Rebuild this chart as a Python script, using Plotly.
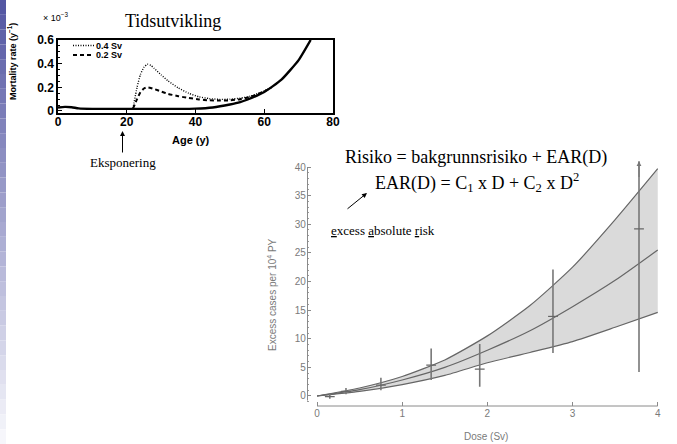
import plotly.graph_objects as go

# ---------------- data: top chart (mortality rate vs age, x 10^-3 /y) ----------------
age_base = [0, 2, 4, 6, 10, 15, 20, 25, 30, 35, 40, 45, 50, 53, 55, 60, 65, 70, 73.5]
rate_base = [0.03, 0.035, 0.032, 0.022, 0.018, 0.018, 0.018, 0.018, 0.018, 0.018,
             0.02, 0.03, 0.055, 0.075, 0.095, 0.16, 0.265, 0.43, 0.6]

age_exp = [21.8, 23, 24, 25, 26, 27, 28, 30, 32, 35, 38, 41, 44, 47, 50, 53, 56, 60, 62]
rate_04 = [0.02, 0.2, 0.31, 0.37, 0.395, 0.385, 0.36, 0.305, 0.255, 0.195, 0.15,
           0.12, 0.105, 0.098, 0.1, 0.108, 0.125, 0.17, 0.2]
rate_02 = [0.02, 0.1, 0.16, 0.19, 0.2, 0.195, 0.185, 0.165, 0.145, 0.125, 0.11,
           0.098, 0.09, 0.088, 0.09, 0.1, 0.12, 0.165, 0.195]

top_xticks = [0, 20, 40, 60, 80]
top_yticks = [0, 0.2, 0.4, 0.6]

# ---------------- data: bottom-right chart (excess cases per 10^4 PY vs dose) ----------------
dose_grid = [0, 0.5, 1, 1.5, 2, 2.5, 3, 3.5, 4]
fit_central = [0, 1.1, 2.8, 5.0, 8.0, 11.4, 15.6, 20.2, 25.5]
fit_upper = [0, 1.4, 3.4, 6.3, 10.5, 15.8, 22.5, 30.8, 39.7]
fit_lower = [0, 0.8, 2.0, 3.6, 5.8, 7.6, 9.5, 12.0, 14.6]

pt_dose = [0.15, 0.34, 0.75, 1.34, 1.91, 2.77, 3.78]
pt_val = [-0.1, 0.8, 1.9, 5.4, 4.7, 13.9, 29.2]
pt_lo = [-0.5, 0.3, 1.0, 2.8, 1.6, 7.5, 4.2]
pt_hi = [0.4, 1.4, 3.2, 8.3, 9.1, 22.1, 92]

dose_ticks = [0, 1, 2, 3, 4]
excess_ticks = [0, 5, 10, 15, 20, 25, 30, 35, 40]

# ---------------- helpers ----------------
W, H = 677, 444
def PX(px):
    return px / W
def PY(py):
    return 1 - py / H

SANS = "Liberation Sans, Arial, sans-serif"
SERIF = "Liberation Serif, Times New Roman, serif"
GRAY = "#7a7a7a"
LINEGRAY = "#666666"

fig = go.Figure()

# top chart traces
fig.add_trace(go.Scatter(x=age_base, y=rate_base, mode="lines", xaxis="x", yaxis="y",
                         line=dict(color="black", width=2.4, shape="spline", smoothing=0.5),
                         showlegend=False))
fig.add_trace(go.Scatter(x=age_exp, y=rate_04, mode="lines", xaxis="x", yaxis="y",
                         line=dict(color="black", width=1.4, dash="1px,1.5px", shape="spline", smoothing=0.5),
                         showlegend=False))
fig.add_trace(go.Scatter(x=age_exp, y=rate_02, mode="lines", xaxis="x", yaxis="y",
                         line=dict(color="black", width=2, dash="4px,3px", shape="spline", smoothing=0.5),
                         showlegend=False))

# bottom-right chart: band + central fit
fig.add_trace(go.Scatter(x=dose_grid, y=fit_lower, mode="lines", xaxis="x2", yaxis="y2",
                         line=dict(color=LINEGRAY, width=1.2, shape="spline", smoothing=0.6),
                         showlegend=False))
fig.add_trace(go.Scatter(x=dose_grid, y=fit_upper, mode="lines", xaxis="x2", yaxis="y2",
                         fill="tonexty", fillcolor="#dadada",
                         line=dict(color=LINEGRAY, width=1.2, shape="spline", smoothing=0.6),
                         showlegend=False))
fig.add_trace(go.Scatter(x=dose_grid, y=fit_central, mode="lines", xaxis="x2", yaxis="y2",
                         line=dict(color=LINEGRAY, width=1.2, shape="spline", smoothing=0.6),
                         showlegend=False))
fig.add_trace(go.Scatter(
    x=pt_dose, y=pt_val, mode="markers", xaxis="x2", yaxis="y2",
    marker=dict(symbol="line-ew", size=7, color=LINEGRAY, line=dict(color=LINEGRAY, width=1.2)),
    error_y=dict(type="data", symmetric=False,
                 array=[h - v for h, v in zip(pt_hi, pt_val)],
                 arrayminus=[v - l for v, l in zip(pt_val, pt_lo)],
                 color="#777777", thickness=1.6, width=0),
    showlegend=False))

shapes = []
# purple gradient strip on the left
N = 30
c0 = (84, 87, 163)
c1 = (246, 246, 251)
for i in range(N):
    t = i / (N - 1)
    col = tuple(int(round(a + (b - a) * t)) for a, b in zip(c0, c1))
    shapes.append(dict(type="rect", xref="paper", yref="paper",
                       x0=0, x1=PX(6), y0=PY(H * (i + 1) / N), y1=PY(H * i / N),
                       line=dict(width=0), fillcolor="rgb(%d,%d,%d)" % col, layer="below"))
# legend samples of the top chart
shapes.append(dict(type="line", xref="paper", yref="paper", x0=PX(73), x1=PX(94),
                   y0=PY(45.5), y1=PY(45.5), line=dict(color="black", width=1.4, dash="1px,1.5px")))
shapes.append(dict(type="line", xref="paper", yref="paper", x0=PX(73), x1=PX(94),
                   y0=PY(55), y1=PY(55), line=dict(color="black", width=2, dash="4px,3px")))
# detached axis lines of the right chart
shapes.append(dict(type="line", xref="x2", yref="paper", x0=0, x1=4,
                   y0=PY(406), y1=PY(406), line=dict(color="#8a8a8a", width=1)))
shapes.append(dict(type="line", xref="paper", yref="y2", x0=PX(307.5), x1=PX(307.5),
                   y0=-0.8, y1=40, line=dict(color="#8a8a8a", width=1)))


def txt(text, px, py, size, family=SANS, color="black", xanchor="center", angle=0):
    return dict(text=text, x=PX(px), y=PY(py), xref="paper", yref="paper",
                xanchor=xanchor, yanchor="middle", textangle=angle, showarrow=False,
                borderpad=0, font=dict(family=family, size=size, color=color))


annotations = [
    txt("Tidsutvikling", 173, 21, 18, SERIF),
    txt("× 10<sup>−3</sup>", 42, 17, 9, xanchor="left"),
    txt("<b>Mortality rate (y<sup>−1</sup>)</b>", 12, 62, 9, angle=-90),
    txt("<b>Age (y)</b>", 191, 140, 11),
    txt("<b>0.4 Sv</b>", 95, 45.5, 9, xanchor="left"),
    txt("<b>0.2 Sv</b>", 95, 55, 9, xanchor="left"),
    dict(text="", x=PX(122.5), y=PY(131), xref="paper", yref="paper", showarrow=True,
         ax=0, ay=23, arrowhead=2, arrowsize=1, arrowwidth=1, arrowcolor="black"),
    txt("Eksponering", 122.5, 162, 13, SERIF),
    txt("Risiko = bakgrunnsrisiko + EAR(D)", 476, 158, 18, SERIF),
    txt("EAR(D) = C<sub>1</sub> x D + C<sub>2</sub> x D<sup>2</sup>", 477, 182, 18, SERIF),
    txt("<u>e</u>xcess <u>a</u>bsolute <u>r</u>isk", 383, 230, 13, SERIF),
    dict(text="", x=PX(367), y=PY(193), xref="paper", yref="paper", showarrow=True,
         ax=-21, ay=17, arrowhead=2, arrowsize=1, arrowwidth=1, arrowcolor="black"),
    txt("Excess cases per 10<sup>4</sup> PY", 272, 295, 10, color=GRAY, angle=-90),
    txt("Dose (Sv)", 486, 436, 10, color=GRAY),
    dict(text="", x=pt_dose[-1], y=41, xref="x2", yref="y2", axref="x2", ayref="y2",
         ax=pt_dose[-1], ay=38, showarrow=True, arrowhead=2, arrowsize=0.8,
         arrowwidth=1.2, arrowcolor="#777777"),
    dict(text="92", x=3.87, y=41.6, xref="x2", yref="y2", showarrow=False,
         xanchor="center", yanchor="middle",
         font=dict(family=SANS, size=6, color=GRAY)),
]

fig.update_layout(
    width=W, height=H,
    margin=dict(l=0, r=0, t=0, b=0, pad=0, autoexpand=False),
    paper_bgcolor="white", plot_bgcolor="rgba(0,0,0,0)",
    showlegend=False,
    shapes=shapes, annotations=annotations,
    xaxis=dict(domain=[PX(58), PX(333)], range=[0, 80], anchor="y",
               showgrid=False, zeroline=False, showline=True, mirror=True,
               linecolor="black", linewidth=1.5, automargin=False,
               ticks="inside", ticklen=4, tickcolor="black", ticklabelstandoff=-3,
               tickvals=top_xticks, ticktext=[str(v) for v in top_xticks],
               tickfont=dict(family=SANS, size=12, color="black", weight="bold")),
    yaxis=dict(domain=[PY(113), PY(40)], range=[-0.017, 0.6], anchor="x",
               showgrid=False, zeroline=False, showline=True, mirror=True,
               linecolor="black", linewidth=1.5, automargin=False,
               ticks="inside", ticklen=4, tickcolor="black",
               tickvals=top_yticks, ticktext=["0", "0.2", "0.4", "0.6"],
               minor=dict(ticks="inside", ticklen=2, dtick=0.05, tickcolor="black"),
               tickfont=dict(family=SANS, size=12, color="black", weight="bold")),
    xaxis2=dict(domain=[PX(306.8), PX(662)], range=[-0.12, 4.05], anchor="y2",
                showgrid=False, zeroline=False, showline=False, automargin=False,
                ticks="inside", ticklen=4, tickcolor="#8a8a8a",
                tickvals=dose_ticks, ticktext=[str(v) for v in dose_ticks],
                tickfont=dict(family=SANS, size=10, color=GRAY)),
    yaxis2=dict(domain=[PY(406), PY(161.3)], range=[-1.75, 41], anchor="x2",
                showgrid=False, zeroline=False, showline=False, automargin=False,
                ticks="inside", ticklen=4, tickcolor="#8a8a8a",
                tickvals=excess_ticks, ticktext=[str(v) for v in excess_ticks],
                minor=dict(ticks="inside", ticklen=2, dtick=1, tickcolor="#9a9a9a"),
                tickfont=dict(family=SANS, size=10, color=GRAY)),
)

fig.write_html("out.html", config={"displayModeBar": False},
               post_script="document.body.style.margin='0';document.body.style.overflow='hidden';")
